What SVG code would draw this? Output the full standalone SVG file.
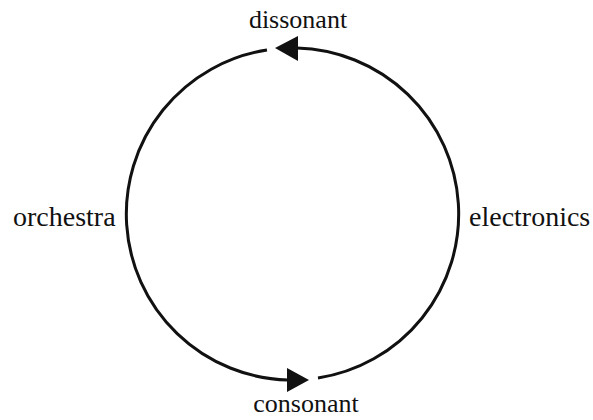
<svg xmlns="http://www.w3.org/2000/svg" width="593" height="420" viewBox="0 0 593 420">
<style>
.lbl{font-family:"Liberation Serif","Times New Roman",serif;font-size:26px;fill:#111;}
.side{font-size:28px;}
.arc{fill:none;stroke:#111;stroke-width:3;}
.head{fill:#111;}
</style>
<rect width="593" height="420" fill="#fff"/>
<g id="connectors">
<path class="arc" d="M267,50 A166,166 0 0 0 288,380"/>
<path class="arc" d="M318,378 A166,166 0 0 0 297,48"/>
<polygon class="head" points="275,48 298,36 298,61"/>
<polygon class="head" points="309,380 287,368 287,392"/>
</g>
<g id="dissonant"><text class="lbl" x="298" y="28" text-anchor="middle">dissonant</text></g>
<g id="consonant"><text class="lbl" x="306" y="412" text-anchor="middle">consonant</text></g>
<g id="orchestra"><text class="lbl side" x="13" y="226">orchestra</text></g>
<g id="electronics"><text class="lbl side" x="469" y="226">electronics</text></g>
</svg>
